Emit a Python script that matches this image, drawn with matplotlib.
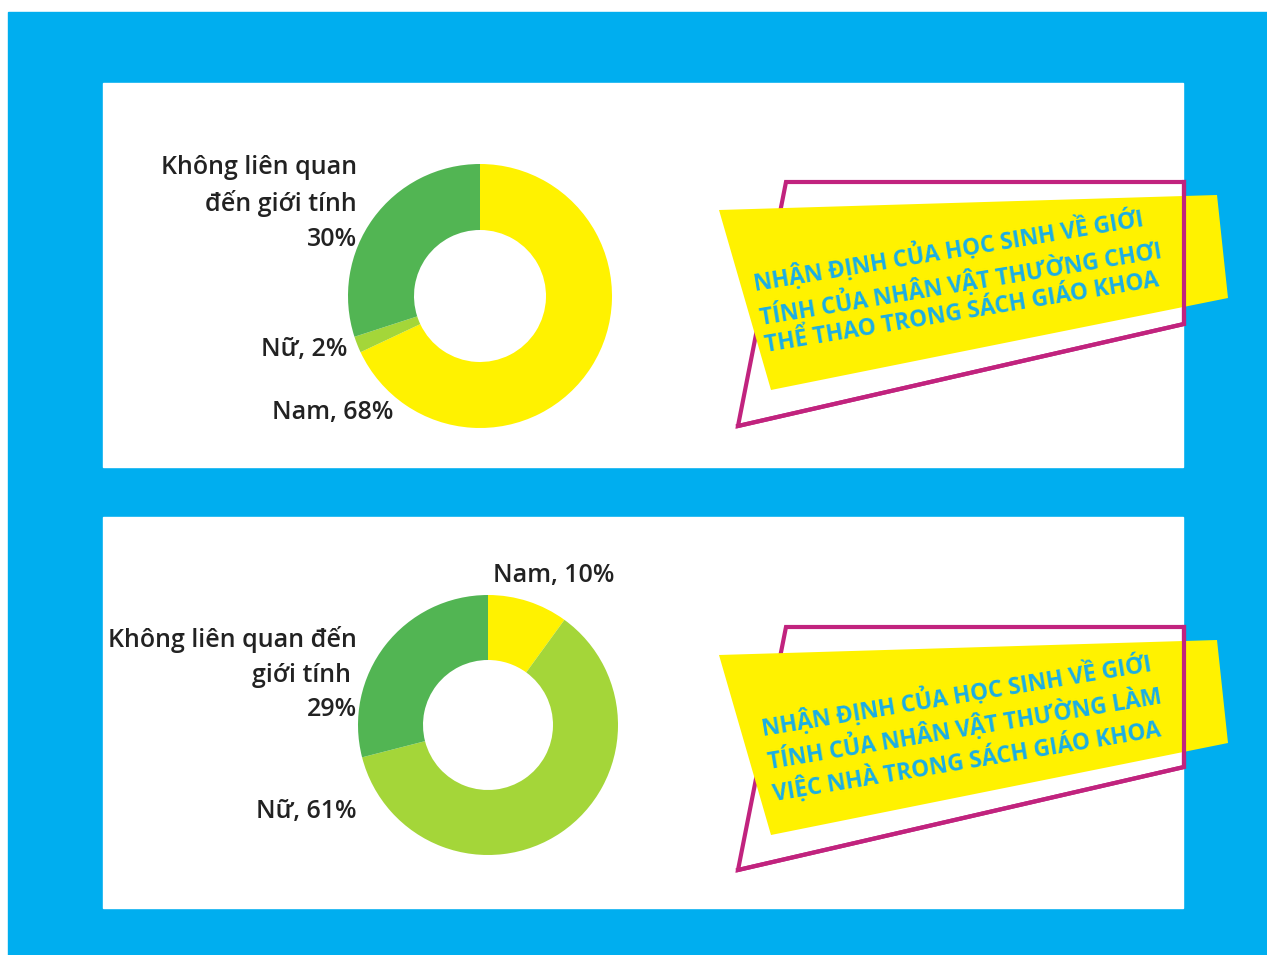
import matplotlib.pyplot as plt
from matplotlib.patches import Rectangle, Polygon

plt.rcParams['font.family'] = ['Open Sans', 'DejaVu Sans']

# du lieu
nhan_vat = ["Nam", "Nữ", "Không liên quan đến giới tính"]
the_thao = [68, 2, 30]
viec_nha = [10, 61, 29]
mau = ["#FFF200", "#A4D639", "#52B553"]

nhan_the_thao = ["Nam, 68%", "Nữ, 2%", "Không liên quan\nđến giới tính\n30%"]
nhan_viec_nha = ["Nam, 10%", "Nữ, 61%", "Không liên quan đến\ngiới tính \n29%"]

tieu_de_1 = "NHẬN ĐỊNH CỦA HỌC SINH VỀ GIỚI\nTÍNH CỦA NHÂN VẬT THƯỜNG CHƠI\nTHỂ THAO TRONG SÁCH GIÁO KHOA"
tieu_de_2 = "NHẬN ĐỊNH CỦA HỌC SINH VỀ GIỚI\nTÍNH CỦA NHÂN VẬT THƯỜNG LÀM\nVIỆC NHÀ TRONG SÁCH GIÁO KHOA"

W, H = 1267, 955
XANH = "#00AEEF"
HONG = "#C1237E"

fig = plt.figure(figsize=(W / 100, H / 100), dpi=100)
bg = fig.add_axes([0, 0, 1, 1])
bg.set_xlim(0, W)
bg.set_ylim(H, 0)
bg.axis('off')

bg.add_patch(Rectangle((8, 12), W - 8, H - 12, color=XANH, zorder=0))
bg.add_patch(Rectangle((103, 83), 1080, 384, color='white', zorder=1))
bg.add_patch(Rectangle((103, 517), 1080, 391, color='white', zorder=1))


def donut(cx, cy, r, values):
    ax = fig.add_axes([(cx - r) / W, 1 - (cy + r) / H, 2 * r / W, 2 * r / H])
    ax.pie(values, colors=mau, startangle=90, counterclock=False, radius=1,
           wedgeprops=dict(width=0.5, linewidth=0))
    ax.set_xlim(-1, 1)
    ax.set_ylim(-1, 1)
    return ax


def banner(mag, yel, text, cx, cy):
    bg.add_patch(Polygon(mag, closed=True, fill=False, ec=HONG, lw=3, zorder=2))
    bg.add_patch(Polygon(yel, closed=True, fc="#FFF200", ec='none', zorder=3))
    bg.plot([mag[1][0], mag[2][0], mag[3][0]], [mag[1][1], mag[2][1], mag[3][1]],
            color=HONG, lw=3, zorder=4, solid_joinstyle='miter')
    bg.text(cx, cy, text, rotation=9.5, rotation_mode='anchor', ha='center', va='center',
            multialignment='left', fontsize=16.3, fontweight='bold', color="#1AAEE6",
            linespacing=1.22, zorder=5)


donut(480, 296, 132, the_thao)
donut(488, 725, 130, viec_nha)

lab = dict(fontsize=18, color="#222222", fontweight='semibold')
bg.text(357, 203, nhan_the_thao[2], ha='right', va='center', multialignment='right',
        linespacing=1.5, **lab)
bg.text(347, 349, nhan_the_thao[1], ha='right', va='center', **lab)
bg.text(393, 412, nhan_the_thao[0], ha='right', va='center', **lab)

bg.text(493, 575, nhan_viec_nha[0], ha='left', va='center', **lab)
bg.text(357, 674, nhan_viec_nha[2], ha='right', va='center', multialignment='right',
        linespacing=1.5, **lab)
bg.text(357, 811, nhan_viec_nha[1], ha='right', va='center', **lab)

banner([(786, 182), (1184, 182), (1184, 324), (738, 426)],
       [(719, 210), (1217, 195), (1228, 298), (771, 390)],
       tieu_de_1, 960, 280)
banner([(786, 627), (1184, 627), (1184, 767), (738, 870)],
       [(719, 655), (1217, 640), (1228, 743), (771, 835)],
       tieu_de_2, 964, 727)

fig.savefig("out.png", dpi=100, facecolor='white')
